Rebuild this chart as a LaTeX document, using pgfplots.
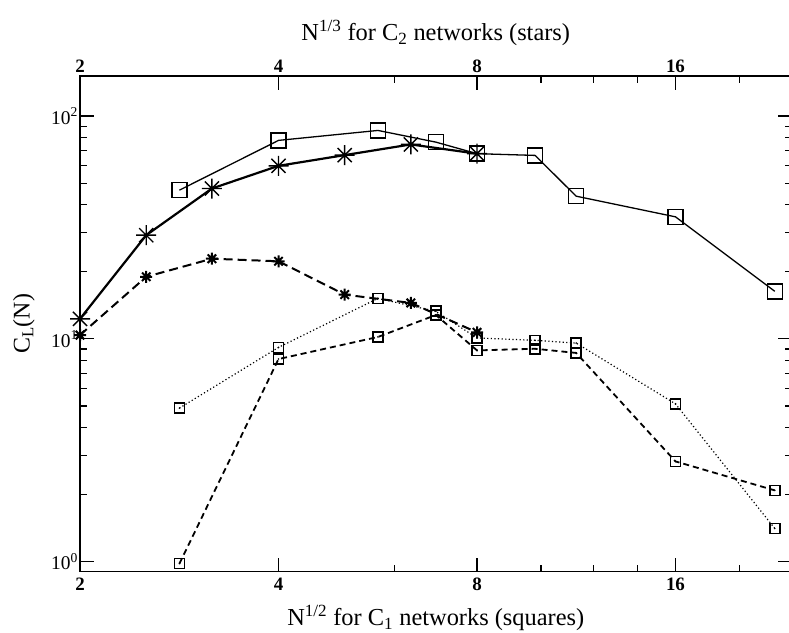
\documentclass[border=0pt]{standalone}
\usepackage{fontspec}
\setmainfont{Liberation Serif}
\usepackage{pgfplots}
\pgfplotsset{compat=1.18}

\pgfdeclareplotmark{star8}{%
  \pgfpathmoveto{\pgfpoint{0pt}{\pgfplotmarksize}}\pgfpathlineto{\pgfpoint{0pt}{-\pgfplotmarksize}}%
  \pgfpathmoveto{\pgfpoint{\pgfplotmarksize}{0pt}}\pgfpathlineto{\pgfpoint{-\pgfplotmarksize}{0pt}}%
  \pgfpathmoveto{\pgfpoint{.707\pgfplotmarksize}{.707\pgfplotmarksize}}\pgfpathlineto{\pgfpoint{-.707\pgfplotmarksize}{-.707\pgfplotmarksize}}%
  \pgfpathmoveto{\pgfpoint{-.707\pgfplotmarksize}{.707\pgfplotmarksize}}\pgfpathlineto{\pgfpoint{.707\pgfplotmarksize}{-.707\pgfplotmarksize}}%
  \pgfusepathqstroke}
\pgfdeclareplotmark{sqdot}{%
  \pgfpathrectangle{\pgfpoint{-\pgfplotmarksize}{-\pgfplotmarksize}}{\pgfpoint{2\pgfplotmarksize}{2\pgfplotmarksize}}%
  \pgfusepathqstroke
  \pgfpathcircle{\pgfpointorigin}{0.9pt}\pgfusepathqfill}

\begin{document}
\begin{tikzpicture}
\begin{axis}[
  name=main,
  at={(0,0)}, anchor=south west,
  scale only axis,
  width=711.6bp, height=495.7bp,
  xmode=log, ymode=log, log basis x=2,
  xmin=2, xmax=24, ymin=0.902, ymax=151.3,
  xtick={2,4,8,16}, xticklabels={2,4,8,16},
  extra x ticks={6,10,12,14,20},
  extra x tick labels={},
  extra x tick style={major tick length=7bp},
  ytick={1,10,100},
  yticklabels={10\textsuperscript{0},10\textsuperscript{1},10\textsuperscript{2}},
  minor ytick={2,3,4,5,6,7,8,9,20,30,40,50,60,70,80,90},
  major tick length=14bp, minor tick length=7bp,
  tick style={line width=1.2bp, black},
  axis line style={line width=1.5bp},
  xticklabel style={font=\fontsize{19}{19}\selectfont\bfseries, yshift=-3bp},
  yticklabel style={font=\fontsize{19.5}{19.5}\selectfont, inner xsep=2bp},
  xlabel={N\textsuperscript{1/2} for C\textsubscript{1} networks (squares)},
  xlabel style={font=\fontsize{24.5}{24.5}\selectfont, at={(axis description cs:0.5,0)}, anchor=base, yshift=-54bp},
  ylabel={C\textsubscript{L}(N)},
  ylabel style={font=\fontsize{24}{24}\selectfont, at={(axis description cs:-0.0787,0.5)}, anchor=center},
  clip=false,
]
% C1 solid, large squares
\addplot[black, line width=1.3bp, mark=square, mark size=7.5bp, mark options={solid, line width=1.5bp}]
  coordinates {(2.83,46.5) (4,77.8) (5.66,86.2) (6.93,76.4) (8,67.8) (9.80,66.6) (11.31,43.7) (16,35.3) (22.63,16.35)};
% C2 solid, large stars
\addplot[black, line width=2.2bp, mark=star8, mark size=10bp, mark options={solid, line width=1.4bp}]
  coordinates {(2,12.3) (2.52,29.2) (3.17,47.3) (4,59.8) (5.04,66.8) (6.35,74.6) (8,67.8)};
% C2 dashed, small stars
\addplot[black, line width=2bp, dash pattern=on 9bp off 5bp, mark=star8, mark size=6bp, mark options={solid, line width=2bp}]
  coordinates {(2,10.4) (2.52,19.0) (3.17,22.9) (4,22.3) (5.04,15.8) (6.35,14.5) (8,10.7)};
% C1 dotted, small squares
\addplot[black, line width=1.2bp, dash pattern=on 1.2bp off 2.4bp, mark=sqdot, mark size=5bp, mark options={solid, line width=1.6bp}]
  coordinates {(2.83,4.89) (4,9.16) (5.66,15.2) (6.93,13.3) (8,10.1) (9.80,9.85) (11.31,9.58) (16,5.11) (22.63,1.41)};
% C1 dashed, small squares
\addplot[black, line width=1.8bp, dash pattern=on 6bp off 4bp, mark=sqdot, mark size=5bp, mark options={solid, line width=1.6bp}]
  coordinates {(2.83,0.98) (4,8.12) (5.66,10.2) (6.93,12.8) (8,8.88) (9.80,9.03) (11.31,8.65) (16,2.82) (22.63,2.09)};
\end{axis}
\begin{axis}[
  at={(0,0)}, anchor=south west,
  scale only axis,
  width=711.6bp, height=495.7bp,
  xmode=log, ymode=log, log basis x=2,
  xmin=2, xmax=24, ymin=0.902, ymax=151.3,
  hide y axis,
  axis x line*=top,
  axis line style={draw=none},
  xtick={2,4,8,16}, xticklabels={2,4,8,16},
  major tick length=0pt,
  xticklabel style={font=\fontsize{19}{19}\selectfont\bfseries},
  xlabel={N\textsuperscript{1/3} for C\textsubscript{2} networks (stars)},
  xlabel style={font=\fontsize{24.5}{24.5}\selectfont, at={(axis description cs:0.5,1)}, anchor=base, yshift=35bp},
]
\end{axis}
\pgfresetboundingbox
\useasboundingbox (-80bp,-61.3bp) rectangle (709bp,571.7bp);
\end{tikzpicture}
\end{document}
